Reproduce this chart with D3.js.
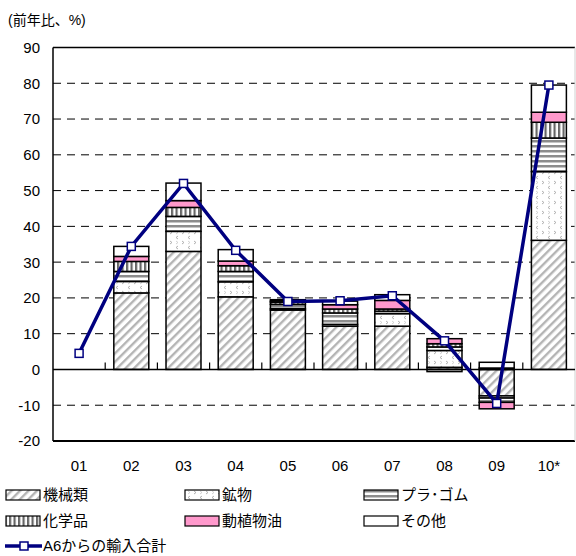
<!DOCTYPE html>
<html>
<head>
<meta charset="utf-8">
<script src="https://cdn.jsdelivr.net/npm/d3@7"></script>
<style>
  body { margin: 0; background: white; }
  text { font-family: "Liberation Sans", Arial, "Noto Sans CJK JP", sans-serif; }
</style>
</head>
<body>
<div id="chart"></div>
<script>
// chart size
const width = 576;
const height = 556;

// data (前年比、%)
const years = ["01", "02", "03", "04", "05", "06", "07", "08", "09", "10*"];
const machinery = [0, 21.4, 33.0, 20.3, 16.6, 12.1, 12.1, 0.6, -7.4, 36.1];
const minerals  = [0, 3.2, 5.6, 4.2, 0.4, 0.5, 3.5, 4.7, -0.6, 19.2];
const plastics  = [0, 2.8, 4.2, 2.9, 1.2, 3.2, 0.7, 1.0, -1.2, 9.4];
const chemicals = [0, 2.8, 2.5, 1.6, 0.6, 1.1, 0.6, 0.9, 0.4, 4.4];
const oils      = [0, 1.4, 1.9, 1.3, 0.3, 1.2, 2.4, 1.4, -1.8, 2.8];
const others    = [0, 2.8, 4.9, 3.2, 0.4, 1.0, 1.6, -0.6, 1.6, 7.6];
const total     = [4.5, 34.4, 52.0, 33.3, 19.0, 19.2, 20.6, 8.0, -9.5, 79.5];
const yTicks = [90, 80, 70, 60, 50, 40, 30, 20, 10, 0, -10, -20];

const seriesKeys = ["機械類", "鉱物", "プラ･ゴム", "化学品", "動植物油", "その他"];
const seriesVals = [machinery, minerals, plastics, chemicals, oils, others];
const fills = ["url(#pat-mach)", "url(#pat-min)", "url(#pat-pla)", "url(#pat-chem)", "#ff99cc", "#ffffff"];

// table for d3.stack
const table = years.map((y, i) => {
  const row = { year: y };
  seriesKeys.forEach((k, j) => { row[k] = seriesVals[j][i]; });
  return row;
});

const svg = d3.select("#chart")
  .append("svg")
  .attr("width", width)
  .attr("height", height)
  .style("background-color", "white");

// patterns
const defs = svg.append("defs");

const pm = defs.append("pattern")
  .attr("id", "pat-mach")
  .attr("patternUnits", "userSpaceOnUse")
  .attr("width", 6).attr("height", 6)
  .attr("patternTransform", "rotate(45)");
pm.append("rect").attr("width", 6).attr("height", 6).attr("fill", "white");
pm.append("rect").attr("width", 2.4).attr("height", 6).attr("fill", "#b4b4b4");

const pmin = defs.append("pattern")
  .attr("id", "pat-min")
  .attr("patternUnits", "userSpaceOnUse")
  .attr("width", 12).attr("height", 10);
pmin.append("rect").attr("width", 12).attr("height", 10).attr("fill", "white");
pmin.append("path").attr("d", "M2,1 L4,2.5 L2,4").attr("fill", "none").attr("stroke", "#a8a8a8").attr("stroke-width", 0.9);
pmin.append("path").attr("d", "M10,6 L8,7.5 L10,9").attr("fill", "none").attr("stroke", "#a8a8a8").attr("stroke-width", 0.9);
pmin.append("path").attr("d", "M8,1 L10,2.5 L8,4").attr("fill", "none").attr("stroke", "#c0c0c0").attr("stroke-width", 0.7);

const ppla = defs.append("pattern")
  .attr("id", "pat-pla")
  .attr("patternUnits", "userSpaceOnUse")
  .attr("width", 6).attr("height", 5);
ppla.append("rect").attr("width", 6).attr("height", 5).attr("fill", "white");
ppla.append("rect").attr("width", 6).attr("height", 2.5).attr("fill", "#8c8c8c");

const pchem = defs.append("pattern")
  .attr("id", "pat-chem")
  .attr("patternUnits", "userSpaceOnUse")
  .attr("width", 4.5).attr("height", 6);
pchem.append("rect").attr("width", 4.5).attr("height", 6).attr("fill", "white");
pchem.append("rect").attr("width", 2.2).attr("height", 6).attr("fill", "#666666");

// scales
const x = d3.scaleBand()
  .domain(years)
  .range([53, 575])
  .padding(0);

const y = d3.scaleLinear()
  .domain([-20, 90])
  .range([441, 47.5]);

const barW = x.bandwidth() * 0.67;

// title
svg.append("text")
  .attr("x", 8)
  .attr("y", 25)
  .style("font-size", "14px")
  .text("(前年比、%)");

// gridlines (dashed)
svg.append("g")
  .selectAll("line")
  .data(yTicks.filter(d => d !== 0 && d !== 90 && d !== -20))
  .enter().append("line")
  .attr("x1", 53).attr("x2", 575)
  .attr("y1", d => y(d)).attr("y2", d => y(d))
  .attr("stroke", "#000")
  .attr("stroke-width", 1)
  .attr("stroke-dasharray", "8,6");

// frame
svg.append("line").attr("x1", 53).attr("x2", 575).attr("y1", y(90)).attr("y2", y(90))
  .attr("stroke", "#000").attr("stroke-width", 1.5);
svg.append("line").attr("x1", 53).attr("x2", 575).attr("y1", y(-20)).attr("y2", y(-20))
  .attr("stroke", "#000").attr("stroke-width", 2);
svg.append("line").attr("x1", 53).attr("x2", 53).attr("y1", y(90)).attr("y2", y(-20))
  .attr("stroke", "#000").attr("stroke-width", 1.5);
svg.append("line").attr("x1", 575).attr("x2", 575).attr("y1", y(90)).attr("y2", y(-20))
  .attr("stroke", "#d0d0d0").attr("stroke-width", 1);

// y tick labels
svg.append("g")
  .selectAll("text")
  .data(yTicks)
  .enter().append("text")
  .attr("x", 40)
  .attr("y", d => y(d))
  .attr("dy", "0.36em")
  .attr("text-anchor", "end")
  .style("font-size", "15px")
  .text(d => d);

// x labels
svg.append("g")
  .selectAll("text")
  .data(years)
  .enter().append("text")
  .attr("x", d => x(d) + x.bandwidth() / 2)
  .attr("y", 471)
  .attr("text-anchor", "middle")
  .style("font-size", "15px")
  .text(d => d);

// stacked bars
const stack = d3.stack()
  .keys(seriesKeys)
  .offset(d3.stackOffsetDiverging);
const stacked = stack(table);

svg.append("g")
  .selectAll("g")
  .data(stacked)
  .enter().append("g")
  .attr("fill", (d, i) => fills[i])
  .selectAll("rect")
  .data(d => d.filter(s => s[1] - s[0] !== 0))
  .enter().append("rect")
  .attr("x", d => x(d.data.year) + (x.bandwidth() - barW) / 2)
  .attr("y", d => y(d[1]))
  .attr("width", barW)
  .attr("height", d => y(d[0]) - y(d[1]))
  .attr("stroke", "#000")
  .attr("stroke-width", 1.5);

// zero line with category ticks
svg.append("line").attr("x1", 53).attr("x2", 575).attr("y1", y(0)).attr("y2", y(0))
  .attr("stroke", "#000").attr("stroke-width", 1.5);
svg.append("g")
  .selectAll("line")
  .data(years.slice(1))
  .enter().append("line")
  .attr("x1", d => x(d)).attr("x2", d => x(d))
  .attr("y1", y(0)).attr("y2", y(0) - 7)
  .attr("stroke", "#000").attr("stroke-width", 1.2);

// total line
const line = d3.line()
  .x((d, i) => x(years[i]) + x.bandwidth() / 2)
  .y(d => y(d));

svg.append("path")
  .datum(total)
  .attr("d", line)
  .attr("fill", "none")
  .attr("stroke", "#000080")
  .attr("stroke-width", 3.5);

svg.append("g")
  .selectAll("rect")
  .data(total)
  .enter().append("rect")
  .attr("x", (d, i) => x(years[i]) + x.bandwidth() / 2 - 4)
  .attr("y", d => y(d) - 4)
  .attr("width", 8).attr("height", 8)
  .attr("fill", "white")
  .attr("stroke", "#000080")
  .attr("stroke-width", 1.5);

// legend
const legendPos = [[6, 495], [185, 495], [364, 495], [6, 521], [185, 521], [364, 521]];
const legendOrder = [0, 1, 2, 3, 4, 5];
const legend = svg.append("g");
legendOrder.forEach((j, k) => {
  const [lx, ly] = legendPos[k];
  legend.append("rect")
    .attr("x", lx).attr("y", ly - 5)
    .attr("width", 34).attr("height", 10)
    .attr("fill", fills[j])
    .attr("stroke", "#000")
    .attr("stroke-width", 1.2);
  legend.append("text")
    .attr("x", lx + 37).attr("y", ly)
    .attr("dy", "0.36em")
    .style("font-size", "15px")
    .text(seriesKeys[j]);
});
legend.append("line")
  .attr("x1", 5).attr("x2", 42).attr("y1", 546).attr("y2", 546)
  .attr("stroke", "#000080").attr("stroke-width", 3.5);
legend.append("rect")
  .attr("x", 20).attr("y", 542).attr("width", 8).attr("height", 8)
  .attr("fill", "white").attr("stroke", "#000080").attr("stroke-width", 1.5);
legend.append("text")
  .attr("x", 43).attr("y", 546)
  .attr("dy", "0.36em")
  .style("font-size", "15px")
  .text("A6からの輸入合計");
</script>
</body>
</html>
